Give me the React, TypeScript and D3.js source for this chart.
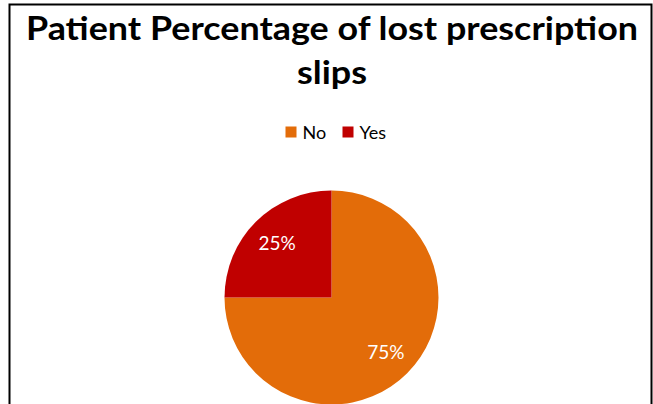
import React from "react";
import * as d3 from "d3";

const categories: string[] = ["No", "Yes"];
const values: number[] = [75, 25];
const labels: string[] = ["75%", "25%"];
const colors: string[] = ["#E36C09", "#C00000"];
const titleLines: string[] = ["Patient Percentage of lost prescription", "slips"];

const W = 653;
const H = 404;
const FONT = "Lato, 'Open Sans', 'DejaVu Sans', sans-serif";

export default function App() {
  const cx = 331.5;
  const cy = 297.5;
  const r = 107;
  const pie = d3.pie<number>().sort(null).value((d) => d);
  const arcs = pie(values);
  const arc = d3.arc<d3.PieArcDatum<number>>().innerRadius(0).outerRadius(r);
  const labelArc = d3
    .arc<d3.PieArcDatum<number>>()
    .innerRadius(r * 0.72)
    .outerRadius(r * 0.72);

  return (
    <svg
      width={W}
      height={H}
      style={{ position: "absolute", left: 0, top: 0, background: "#fff" }}
    >
      <rect x={0} y={0} width={W} height={H} fill="#fff" />
      {/* chart border */}
      <path d={`M9.5,${H} V4.5 H651.5 V${H}`} fill="none" stroke="#000" strokeWidth={2} />
      {/* title */}
      <text
        x={332}
        y={40}
        textAnchor="middle"
        fontFamily={FONT}
        fontWeight="bold"
        fontSize={33}
        fill="#000"
        textLength={612}
        lengthAdjust="spacingAndGlyphs"
      >
        {titleLines[0]}
      </text>
      <text
        x={332}
        y={84}
        textAnchor="middle"
        fontFamily={FONT}
        fontWeight="bold"
        fontSize={33}
        fill="#000"
        textLength={70}
        lengthAdjust="spacingAndGlyphs"
      >
        {titleLines[1]}
      </text>
      {/* legend */}
      {categories.map((c, i) => {
        const x0 = i === 0 ? 285.5 : 342.5;
        return (
          <g key={c}>
            <rect x={x0} y={126.5} width={11} height={11} fill={colors[i]} />
            <text
              x={x0 + 17}
              y={138.5}
              fontFamily={FONT}
              fontSize={18}
              fill="#000"
            >
              {c}
            </text>
          </g>
        );
      })}
      {/* pie */}
      <g transform={`translate(${cx},${cy})`}>
        {arcs.map((a, i) => (
          <path key={categories[i]} d={arc(a) || ""} fill={colors[i]} />
        ))}
        {arcs.map((a, i) => {
          const [lx, ly] = labelArc.centroid(a);
          return (
            <text
              key={"l" + categories[i]}
              x={lx}
              y={ly}
              dy="0.35em"
              textAnchor="middle"
              fontFamily={FONT}
              fontSize={19}
              fill="#fff"
            >
              {labels[i]}
            </text>
          );
        })}
      </g>
    </svg>
  );
}
